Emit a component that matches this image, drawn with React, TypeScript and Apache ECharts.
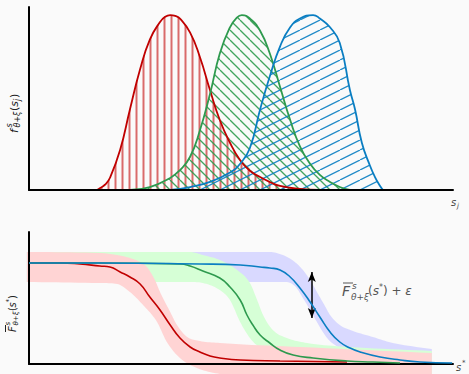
import React, { useEffect, useRef } from 'react';
import * as echarts from 'echarts';

// ---------- Top panel: densities f^s_{θ+ξ}(s_j), points [s_j, density] ----------
const densityRed = [[1.60, 0], [1.67, 0.01], [1.79, 0.03], [1.91, 0.07], [2.15, 0.23], [2.38, 0.46], [2.62, 0.69], [2.85, 0.86], [3.09, 0.96], [3.21, 0.99], [3.33, 1.0], [3.45, 0.995], [3.56, 0.98], [3.80, 0.90], [4.03, 0.76], [4.27, 0.57], [4.50, 0.40], [4.74, 0.27], [4.98, 0.17], [5.21, 0.11], [5.45, 0.074], [5.68, 0.046], [5.92, 0.023], [6.39, 0.006], [6.86, 0]];
const densityGreen = [[2.38, 0], [2.85, 0.017], [3.33, 0.069], [3.56, 0.114], [3.80, 0.19], [4.03, 0.34], [4.27, 0.55], [4.50, 0.78], [4.74, 0.93], [4.90, 0.985], [5.02, 1.0], [5.21, 0.98], [5.45, 0.91], [5.68, 0.78], [5.92, 0.59], [6.16, 0.40], [6.39, 0.25], [6.63, 0.15], [6.86, 0.086], [7.10, 0.046], [7.33, 0.017], [7.57, 0]];
const densityBlue = [[3.33, 0], [3.80, 0.017], [4.27, 0.046], [4.74, 0.10], [4.98, 0.15], [5.21, 0.24], [5.45, 0.46], [5.68, 0.65], [5.92, 0.82], [6.16, 0.93], [6.39, 0.98], [6.70, 1.0], [6.86, 0.98], [7.10, 0.93], [7.33, 0.84], [7.57, 0.57], [7.69, 0.46], [7.85, 0.27], [8.04, 0.14], [8.16, 0.074], [8.28, 0.023], [8.35, 0]];

// ---------- Bottom panel: survival curves F̄(s*), points [s*, value] ----------
const survRed = [[0, 1.01], [0.73, 1.01], [1.20, 1.0], [1.67, 0.98], [1.91, 0.97], [2.15, 0.92], [2.38, 0.87], [2.62, 0.80], [2.85, 0.67], [3.09, 0.54], [3.33, 0.39], [3.56, 0.26], [3.80, 0.17], [4.03, 0.12], [4.27, 0.08], [4.50, 0.06], [4.98, 0.04], [5.92, 0.03], [7.50, 0.02]];
const survGreen = [[0, 1.01], [1.67, 1.01], [3.56, 1.0], [3.80, 0.98], [4.10, 0.93], [4.50, 0.86], [4.74, 0.77], [4.98, 0.64], [5.14, 0.49], [5.28, 0.39], [5.45, 0.29], [5.68, 0.21], [5.92, 0.14], [6.23, 0.09], [6.70, 0.06], [7.50, 0.03], [8.11, 0.02], [8.75, 0.01]];
const survBlue = [[0, 1.01], [1.67, 1.01], [4.03, 1.0], [4.98, 0.99], [5.45, 0.97], [5.68, 0.96], [5.92, 0.94], [6.16, 0.87], [6.39, 0.76], [6.63, 0.62], [6.86, 0.47], [7.10, 0.32], [7.33, 0.22], [7.57, 0.16], [7.81, 0.12], [8.28, 0.07], [8.75, 0.04], [9.22, 0.02], [9.98, 0.01]];

// Uncertainty bands (upper / lower edges)
const bandRedUpper = [[-0.05, 1.12], [1.67, 1.11], [2.08, 1.09], [2.38, 1.06], [2.62, 1.02], [2.78, 0.97], [2.97, 0.84], [3.09, 0.72], [3.33, 0.52], [3.49, 0.39], [3.73, 0.27], [4.03, 0.23], [4.50, 0.21], [6.39, 0.17], [9.50, 0.11]];
const bandRedLower = [[-0.05, 0.82], [1.67, 0.81], [2.08, 0.80], [2.38, 0.72], [2.69, 0.59], [3.02, 0.42], [3.25, 0.22], [3.56, 0.06], [3.96, -0.04], [4.50, -0.10], [5.45, -0.14], [9.50, -0.19]];
const bandGreenUpper = [[-0.05, 1.12], [3.80, 1.12], [4.10, 1.09], [4.50, 1.04], [4.91, 0.94], [5.21, 0.81], [5.38, 0.64], [5.52, 0.49], [5.75, 0.34], [6.08, 0.26], [6.56, 0.21], [7.57, 0.17], [9.50, 0.13]];
const bandGreenLower = [[-0.05, 0.82], [3.80, 0.82], [4.10, 0.81], [4.50, 0.74], [4.74, 0.64], [4.98, 0.42], [5.21, 0.26], [5.45, 0.16], [5.92, 0.04], [6.86, -0.06], [9.50, -0.17]];
const bandBlueUpper = [[-0.05, 1.12], [5.68, 1.12], [6.04, 1.08], [6.27, 1.02], [6.46, 0.94], [6.63, 0.84], [6.79, 0.72], [6.98, 0.58], [7.10, 0.49], [7.33, 0.39], [7.64, 0.33], [8.11, 0.27], [8.58, 0.21], [9.50, 0.15]];
const bandBlueLower = [[-0.05, 0.82], [6.04, 0.82], [6.27, 0.78], [6.46, 0.66], [6.63, 0.54], [6.79, 0.42], [7.03, 0.26], [7.33, 0.16], [7.81, 0.08], [8.58, -0.04], [9.50, -0.14]];

// Arrow annotation (s*, top, bottom)
const arrowX = 6.67;
const arrowTop = 0.92;
const arrowBottom = 0.46;

const RED = '#c00000';
const GREEN = '#2e9a4e';
const BLUE = '#0a7ec2';
const BG = '#fafafa';
const MATH = '"DejaVu Sans", sans-serif';

function makePattern(kind: string, color: string) {
  const c = document.createElement('canvas');
  let w = 7, h = 7;
  if (kind === 'back') { w = 10; h = 10; }
  if (kind === 'fwd') { w = 20; h = 10; }
  c.width = w; c.height = h;
  const ctx = c.getContext('2d')!;
  ctx.strokeStyle = color;
  ctx.fillStyle = color;
  if (kind === 'vert') {
    ctx.fillRect(2.5, 0, 2, h);
  } else if (kind === 'back') {
    ctx.lineWidth = 1.3;
    for (const k of [-10, 0, 10]) {
      ctx.beginPath(); ctx.moveTo(k, 0); ctx.lineTo(k + 10, 10); ctx.stroke();
    }
  } else {
    ctx.lineWidth = 1.3;
    for (const k of [-20, 0, 20]) {
      ctx.beginPath(); ctx.moveTo(k, 10); ctx.lineTo(k + 20, 0); ctx.stroke();
    }
  }
  return { image: c, repeat: 'repeat', imageWidth: w, imageHeight: h } as any;
}

// monotone cubic (pixel space) used only to render the smooth band edges
function monotone(pts: number[][], n = 10) {
  const N = pts.length;
  if (N < 3) return pts;
  const xs = pts.map(p => p[0]), ys = pts.map(p => p[1]);
  const d: number[] = [], m: number[] = [];
  for (let i = 0; i < N - 1; i++) d.push((ys[i + 1] - ys[i]) / ((xs[i + 1] - xs[i]) || 1e-6));
  m[0] = d[0]; m[N - 1] = d[N - 2];
  for (let i = 1; i < N - 1; i++) m[i] = d[i - 1] * d[i] <= 0 ? 0 : (d[i - 1] + d[i]) / 2;
  for (let i = 0; i < N - 1; i++) {
    if (d[i] === 0) { m[i] = 0; m[i + 1] = 0; continue; }
    const a = m[i] / d[i], b = m[i + 1] / d[i];
    const s = a * a + b * b;
    if (s > 9) { const t = 3 / Math.sqrt(s); m[i] = t * a * d[i]; m[i + 1] = t * b * d[i]; }
  }
  const out: number[][] = [];
  for (let i = 0; i < N - 1; i++) {
    const h = xs[i + 1] - xs[i];
    for (let k = 0; k < n; k++) {
      const t = k / n, t2 = t * t, t3 = t2 * t;
      const h00 = 2 * t3 - 3 * t2 + 1, h10 = t3 - 2 * t2 + t, h01 = -2 * t3 + 3 * t2, h11 = t3 - t2;
      out.push([xs[i] + t * h, h00 * ys[i] + h10 * h * m[i] + h01 * ys[i + 1] + h11 * h * m[i + 1]]);
    }
  }
  out.push([xs[N - 1], ys[N - 1]]);
  return out;
}

function bandSeries(upper: number[][], lower: number[][], color: string) {
  return {
    type: 'custom',
    xAxisIndex: 1,
    yAxisIndex: 1,
    z: 1,
    silent: true,
    clip: false,
    data: [0],
    renderItem: (_p: any, api: any) => {
      const up = monotone(upper.map(p => api.coord(p)));
      const lo = monotone(lower.map(p => api.coord(p)));
      const pts = up.concat(lo.slice().reverse());
      return { type: 'polygon', shape: { points: pts }, style: { fill: color, stroke: 'none' } };
    },
  };
}

function txt(text: string, x: number, y: number, font: string, fill: string, extra: any = {}) {
  return {
    type: 'text', x, y, silent: true,
    style: { text, font, fill, align: 'left', verticalAlign: 'middle', textAlign: 'left', textVerticalAlign: 'middle', ...extra },
  };
}

export default function App() {
  const ref = useRef<HTMLDivElement>(null);
  useEffect(() => {
    if (!ref.current) return;
    const chart = echarts.init(ref.current, undefined, { renderer: 'svg' });
    const axisCommon = {
      type: 'value',
      axisTick: { show: false },
      axisLabel: { show: false },
      splitLine: { show: false },
      z: 5,
    };
    const axisLine = { show: true, onZero: false, lineStyle: { color: '#000', width: 2 } };
    const densLine = (data: number[][], color: string, pat: any) => ({
      type: 'line', xAxisIndex: 0, yAxisIndex: 0, data, smooth: 0.5,
      symbol: 'none', z: 2, silent: true,
      lineStyle: { color, width: 1.8 },
      areaStyle: { color: pat, opacity: 1 },
    });
    const survLine = (data: number[][], color: string, extra: any = {}) => ({
      type: 'line', xAxisIndex: 1, yAxisIndex: 1, data, smooth: 0.5,
      symbol: 'none', z: 6, silent: true, clip: false,
      lineStyle: { color, width: 1.6 },
      ...extra,
    });
    const LBL = '#555';
    chart.setOption({
      animation: false,
      backgroundColor: BG,
      grid: [
        { left: 29, top: 7, width: 424, height: 183 },
        { left: 29, top: 232, width: 424, height: 132 },
      ],
      xAxis: [
        { ...axisCommon, gridIndex: 0, min: 0, max: 10, axisLine },
        { ...axisCommon, gridIndex: 1, min: 0, max: 10, axisLine },
      ],
      yAxis: [
        { ...axisCommon, gridIndex: 0, min: 0, max: 1.046, axisLine },
        { ...axisCommon, gridIndex: 1, min: 0, max: 1.32, axisLine },
      ],
      series: [
        densLine(densityRed, RED, makePattern('vert', 'rgba(200,30,30,0.65)')),
        densLine(densityGreen, GREEN, makePattern('back', 'rgba(46,154,78,0.9)')),
        densLine(densityBlue, BLUE, makePattern('fwd', 'rgba(10,126,194,0.9)')),
        bandSeries(bandBlueUpper, bandBlueLower, '#d9d9ff'),
        bandSeries(bandGreenUpper, bandGreenLower, '#d6ffd6'),
        bandSeries(bandRedUpper, bandRedLower, '#ffd4d4'),
        survLine(survRed, RED),
        survLine(survGreen, GREEN),
        survLine(survBlue, BLUE, {
          markLine: {
            silent: true,
            symbol: ['arrow', 'arrow'],
            symbolSize: [6, 10],
            label: { show: false },
            lineStyle: { color: '#000', width: 1.5, type: 'solid' },
            data: [[{ coord: [arrowX, arrowTop] }, { coord: [arrowX, arrowBottom] }]],
          },
        }),
      ],
      graphic: [
        // top y-axis label  f^s_{θ+ξ}(s_j)
        {
          type: 'group', x: 14, y: 112, rotation: Math.PI / 2, silent: true,
          children: [
            txt('f', -21, 0, `italic 11px ${MATH}`, '#222'),
            txt('s', -15.5, -4.5, `italic 8px ${MATH}`, '#222'),
            txt('θ+ξ', -15.5, 3.5, `italic 8px ${MATH}`, '#222'),
            txt('(', 1, 0, `11px ${MATH}`, '#222'),
            txt('s', 5.3, 0, `italic 11px ${MATH}`, '#222'),
            txt('j', 11, 3.5, `italic 8px ${MATH}`, '#222'),
            txt(')', 14, 0, `11px ${MATH}`, '#222'),
          ],
        },
        // bottom y-axis label  F̄^s_{θ+ξ}(s*)
        {
          type: 'group', x: 12, y: 312, rotation: Math.PI / 2, silent: true,
          children: [
            { type: 'line', shape: { x1: -20, y1: -6.5, x2: -13, y2: -6.5 }, style: { stroke: '#222', lineWidth: 1 } },
            txt('F', -20, 0, `italic 10px ${MATH}`, '#222'),
            txt('s', -13.5, -4, `italic 7px ${MATH}`, '#222'),
            txt('θ+ξ', -13.5, 3.5, `italic 7px ${MATH}`, '#222'),
            txt('(', 1, 0, `10px ${MATH}`, '#222'),
            txt('s', 4.5, 0, `italic 10px ${MATH}`, '#222'),
            txt('*', 9.5, -3, `7px ${MATH}`, '#222'),
            txt(')', 13, 0, `10px ${MATH}`, '#222'),
          ],
        },
        // x-axis names
        txt('s', 451, 202, `italic 10px ${MATH}`, '#444'),
        txt('j', 457, 206, `italic 7px ${MATH}`, '#444'),
        txt('s', 456, 367, `italic 10px ${MATH}`, '#444'),
        txt('*', 462, 363, `7px ${MATH}`, '#444'),
        // annotation  F̄^s_{θ+ξ}(s*) + ε
        { type: 'line', silent: true, shape: { x1: 343, y1: 283, x2: 353, y2: 283 }, style: { stroke: LBL, lineWidth: 1 } },
        txt('F', 342, 291, `italic 14px ${MATH}`, LBL),
        txt('s', 352, 286, `italic 9px ${MATH}`, LBL),
        txt('θ+ξ', 351, 297, `italic 9px ${MATH}`, LBL),
        {
          type: 'text', x: 368, y: 291, silent: true,
          style: {
            text: '{p|(}{i|s}{t|*}{p|) + }{i|ε}',
            fill: LBL, align: 'left', verticalAlign: 'middle', textAlign: 'left', textVerticalAlign: 'middle',
            rich: {
              p: { fontSize: 12, fontFamily: MATH, fill: LBL, lineHeight: 16 },
              i: { fontSize: 12, fontStyle: 'italic', fontFamily: MATH, fill: LBL, lineHeight: 16 },
              t: { fontSize: 8, fontFamily: MATH, fill: LBL, verticalAlign: 'top', lineHeight: 10 },
            },
          },
        },
      ],
    });
    return () => chart.dispose();
  }, []);
  return (
    <div
      ref={ref}
      style={{ position: 'fixed', left: 0, top: 0, width: 469, height: 374, background: BG }}
    />
  );
}
